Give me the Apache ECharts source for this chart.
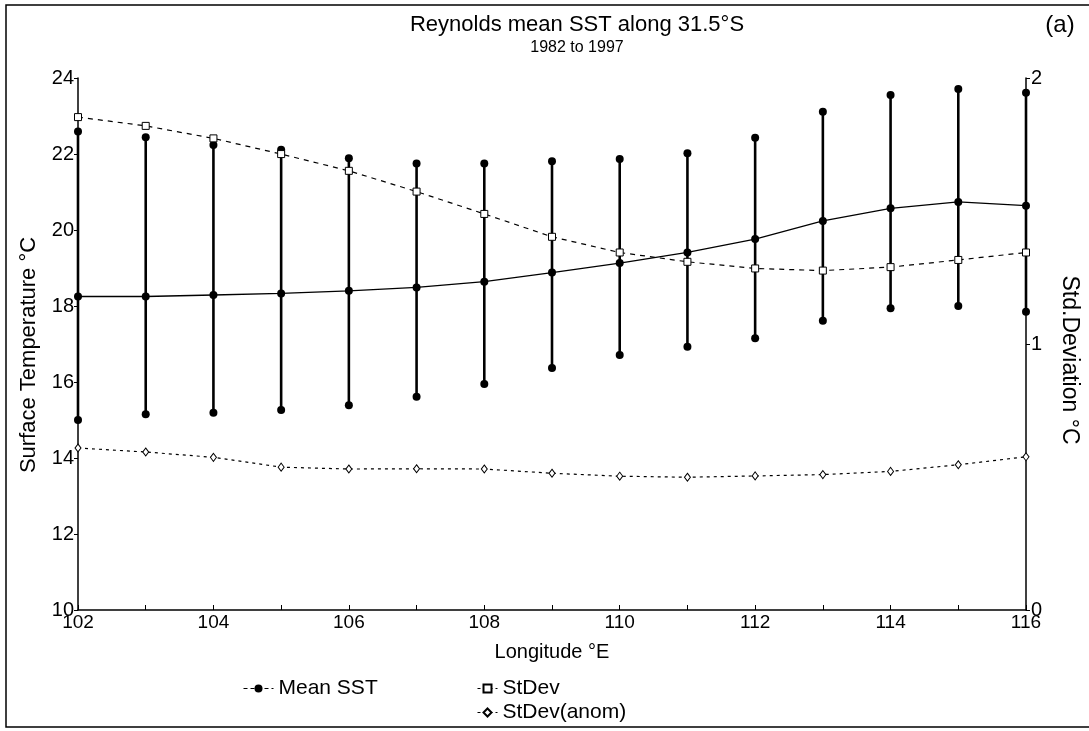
<!DOCTYPE html>
<html>
<head>
<meta charset="utf-8">
<script src="https://cdn.jsdelivr.net/npm/echarts@6/dist/echarts.min.js"></script>
<style>html,body{margin:0;padding:0;background:#fff}#c{width:1089px;height:731px}</style>
</head>
<body>
<div id="c"></div>
<script>
// Longitude (°E)
var longitudes = [102,103,104,105,106,107,108,109,110,111,112,113,114,115,116];
// Mean SST (°C)
var meanSST = [18.25,18.25,18.29,18.33,18.40,18.49,18.64,18.88,19.13,19.41,19.76,20.24,20.57,20.74,20.64];
// Error bar upper / lower ends (°C)
var sstHigh = [22.59,22.44,22.24,22.11,21.89,21.75,21.75,21.81,21.87,22.02,22.43,23.11,23.55,23.71,23.61];
var sstLow  = [15.00,15.15,15.19,15.26,15.39,15.61,15.95,16.37,16.71,16.93,17.15,17.61,17.94,18.00,17.85];
// Standard deviation (°C, right axis)
var stDev     = [1.853,1.820,1.773,1.714,1.651,1.573,1.489,1.403,1.344,1.309,1.284,1.276,1.289,1.316,1.344];
var stDevAnom = [0.609,0.594,0.574,0.537,0.530,0.531,0.530,0.514,0.503,0.499,0.504,0.509,0.521,0.546,0.576];
// Axis ticks
var tempTicks = {min:10, max:24, interval:2};
var sdTicks = {min:0, max:2, interval:1};
var lonTicks = {min:102, max:116, interval:2};

var FONT = '"Liberation Sans", Arial, sans-serif';
var chart = echarts.init(document.getElementById('c'), null, {renderer:'canvas'});

var barData = longitudes.map(function(x,i){ return [x, sstLow[i], sstHigh[i]]; });

var option = {
  backgroundColor:'#fff',
  animation:false,
  textStyle:{fontFamily:FONT, color:'#000'},
  title:[{
    text:'Reynolds mean SST along 31.5°S',
    subtext:'1982 to 1997',
    left:572, top:9, textAlign:'center',
    itemGap:4,
    textStyle:{fontFamily:FONT, fontSize:22, fontWeight:'normal', color:'#000'},
    subtextStyle:{fontFamily:FONT, fontSize:16, color:'#000'}
  },{
    text:'(a)', left:1055, top:8, textAlign:'center',
    textStyle:{fontFamily:FONT, fontSize:24, fontWeight:'normal', color:'#000'}
  }],
  grid:{left:78, right:50, top:78, bottom:121, containLabel:false},
  legend:[{
    data:['Mean SST'], left:238, top:673, orient:'horizontal',
    itemWidth:30, itemHeight:10,
    lineStyle:{type:[4,3], width:1},
    textStyle:{fontFamily:FONT, fontSize:21, color:'#000'}
  },{
    data:['StDev','StDev(anom)'], left:472, top:673, orient:'vertical',
    itemWidth:20, itemHeight:10, itemGap:3,
    lineStyle:{type:[3,3], width:1},
    textStyle:{fontFamily:FONT, fontSize:21, color:'#000'}
  }],
  xAxis:{
    type:'value', min:lonTicks.min, max:lonTicks.max, interval:lonTicks.interval,
    name:'Longitude °E', nameLocation:'middle', nameGap:32,
    nameTextStyle:{fontFamily:FONT, fontSize:20, color:'#000'},
    axisLine:{onZero:false, lineStyle:{color:'#000', width:1.5}},
    axisTick:{inside:true, length:5, lineStyle:{color:'#000', width:1}},
    minorTick:{show:true, splitNumber:2, length:5, lineStyle:{color:'#000', width:1}},
    axisLabel:{fontFamily:FONT, fontSize:19, color:'#000', margin:3},
    splitLine:{show:false}
  },
  yAxis:[{
    type:'value', min:tempTicks.min, max:tempTicks.max, interval:tempTicks.interval,
    name:'Surface Temperature °C', nameLocation:'middle', nameGap:38,
    nameTextStyle:{fontFamily:FONT, fontSize:22, color:'#000', padding:[0,22,0,0]},
    axisLine:{show:true, lineStyle:{color:'#000', width:1.5}},
    axisTick:{show:true, length:4, lineStyle:{color:'#000'}},
    axisLabel:{fontFamily:FONT, fontSize:20, color:'#000', margin:4},
    splitLine:{show:false}
  },{
    type:'value', position:'right', min:sdTicks.min, max:sdTicks.max, interval:sdTicks.interval,
    name:'Std.Deviation °C', nameLocation:'middle', nameGap:32, nameRotate:-90,
    nameTextStyle:{fontFamily:FONT, fontSize:23, color:'#000', padding:[0,0,0,32]},
    axisLine:{show:true, lineStyle:{color:'#000', width:1.5}},
    axisTick:{show:true, length:4, lineStyle:{color:'#000'}},
    axisLabel:{fontFamily:FONT, fontSize:20, color:'#000', margin:5},
    splitLine:{show:false}
  }],
  graphic:[{
    type:'polyline', silent:true, z:100,
    shape:{points:[[1089,5],[6,5],[6,727],[1089,727]]},
    style:{stroke:'#000', lineWidth:1.5, fill:null}
  }],
  series:[{
    type:'custom', name:'range', yAxisIndex:0, z:2,
    data:barData,
    encode:{x:0, y:[1,2]},
    renderItem:function(params, api){
      var x = api.value(0);
      var lo = api.coord([x, api.value(1)]);
      var hi = api.coord([x, api.value(2)]);
      return {type:'group', children:[
        {type:'line', shape:{x1:lo[0], y1:lo[1], x2:hi[0], y2:hi[1]}, style:{stroke:'#000', lineWidth:2.6}},
        {type:'circle', shape:{cx:lo[0], cy:lo[1], r:4}, style:{fill:'#000'}},
        {type:'circle', shape:{cx:hi[0], cy:hi[1], r:4}, style:{fill:'#000'}}
      ]};
    }
  },{
    type:'line', name:'Mean SST', yAxisIndex:0, z:3,
    data:longitudes.map(function(x,i){return [x, meanSST[i]];}),
    symbol:'circle', symbolSize:8,
    itemStyle:{color:'#000'},
    lineStyle:{color:'#000', width:1.3}
  },{
    type:'line', name:'StDev', yAxisIndex:1, z:3,
    data:longitudes.map(function(x,i){return [x, stDev[i]];}),
    symbol:'rect', symbolSize:7,
    itemStyle:{color:'#fff', borderColor:'#000', borderWidth:1},
    lineStyle:{color:'#000', width:1.2, type:[5,5]}
  },{
    type:'line', name:'StDev(anom)', yAxisIndex:1, z:3,
    data:longitudes.map(function(x,i){return [x, stDevAnom[i]];}),
    symbol:'diamond', symbolSize:[6,8],
    itemStyle:{color:'#fff', borderColor:'#000', borderWidth:1},
    lineStyle:{color:'#000', width:1.2, type:[3,4]}
  }]
};
chart.setOption(option);
</script>
</body>
</html>
